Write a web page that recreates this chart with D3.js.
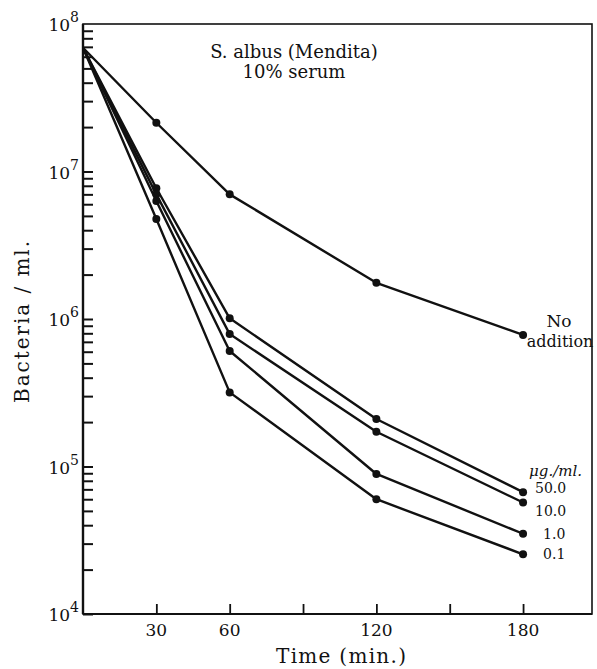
<!DOCTYPE html>
<html>
<head>
<meta charset="utf-8">
<script src="https://cdn.jsdelivr.net/npm/d3@7"></script>
<style>
  html, body { margin: 0; padding: 0; background: #fff; }
  svg { display: block; }
  text { font-family: "DejaVu Serif", serif; fill: #111; }
</style>
</head>
<body>
<svg id="chart" width="597" height="669"></svg>
<script>
// ---- data ----
const times = [0, 30, 60, 120, 180];
const noAddition = [6.9e7, 2.14e7, 7.0e6, 1.76e6, 7.8e5];
const conc50 = [6.9e7, 7.7e6, 1.01e6, 2.1e5, 6.7e4];
const conc10 = [6.9e7, 7.0e6, 7.9e5, 1.72e5, 5.7e4];
const conc1 = [6.9e7, 6.3e6, 6.07e5, 8.9e4, 3.5e4];
const conc01 = [6.9e7, 4.76e6, 3.18e5, 6.0e4, 2.54e4];
const seriesLabels = ["No addition", "50.0", "10.0", "1.0", "0.1"];
const xTickLabels = [30, 60, 120, 180];
const xMinorTicks = [90, 150];
const yDecades = [4, 5, 6, 7, 8];

const series = [noAddition, conc50, conc10, conc1, conc01];

const svg = d3.select("#chart");
const mLeft = 83, mRight = 592, mTop = 24, mBottom = 614;

const x = d3.scaleLinear().domain([0, 208.2]).range([mLeft, mRight]);
const y = d3.scaleLog().domain([1e4, 1e8]).range([mBottom, mTop]);

// frame
svg.append("rect").attr("x", mLeft).attr("y", mTop)
  .attr("width", mRight - mLeft).attr("height", mBottom - mTop)
  .attr("fill", "none").attr("stroke", "#111").attr("stroke-width", 1.6);
svg.append("line").attr("x1", mLeft).attr("x2", mLeft).attr("y1", mTop).attr("y2", mBottom)
  .attr("stroke", "#111").attr("stroke-width", 2.4);
svg.append("line").attr("x1", mLeft).attr("x2", mRight).attr("y1", mBottom).attr("y2", mBottom)
  .attr("stroke", "#111").attr("stroke-width", 2);

// y ticks (inside, pointing right)
const yTickVals = [];
for (let d = 4; d < 8; d++) for (let m = 1; m <= 9; m++) yTickVals.push(m * Math.pow(10, d));
const yAxis = d3.axisRight(y).tickValues(yTickVals).tickSize(10).tickFormat("");
const gy = svg.append("g").attr("transform", `translate(${mLeft},0)`).call(yAxis);
gy.select(".domain").remove();
gy.selectAll(".tick line").attr("stroke", "#111").attr("stroke-width", 2);

// y labels 10^n
const yl = svg.append("g");
yDecades.forEach(d => {
  const t = yl.append("text")
    .attr("x", mLeft - 4).attr("y", y(Math.pow(10, d)) + 7)
    .attr("text-anchor", "end").attr("font-size", 17);
  t.append("tspan").text("10");
  t.append("tspan").attr("dy", -9).attr("font-size", 14).text(d);
});

// x ticks (inside, pointing up)
const xAxis = d3.axisTop(x).tickValues(xTickLabels.concat(xMinorTicks)).tickSize(10).tickFormat("");
const gx = svg.append("g").attr("transform", `translate(0,${mBottom})`).call(xAxis);
gx.select(".domain").remove();
gx.selectAll(".tick line").attr("stroke", "#111").attr("stroke-width", 1.8);

svg.append("g").selectAll("text").data(xTickLabels).join("text")
  .attr("x", d => x(d)).attr("y", mBottom + 22)
  .attr("text-anchor", "middle").attr("font-size", 17).text(d => d);

// axis titles
svg.append("text").attr("x", 341).attr("y", 663)
  .attr("text-anchor", "middle").attr("font-size", 20)
  .attr("textLength", 130).attr("lengthAdjust", "spacing").text("Time (min.)");
svg.append("text")
  .attr("transform", `translate(29,322) rotate(-90)`)
  .attr("text-anchor", "middle").attr("font-size", 20)
  .attr("textLength", 162).attr("lengthAdjust", "spacing").text("Bacteria / ml.");

// title
svg.append("text").attr("x", 294).attr("y", 58)
  .attr("text-anchor", "middle").attr("font-size", 18).text("S. albus (Mendita)");
svg.append("text").attr("x", 294).attr("y", 78)
  .attr("text-anchor", "middle").attr("font-size", 18).text("10% serum");

// lines
const line = d3.line().x((d, i) => x(times[i])).y(d => y(d));
series.forEach(s => {
  svg.append("path").datum(s).attr("d", line)
    .attr("fill", "none").attr("stroke", "#111").attr("stroke-width", 2.4)
    .attr("stroke-linejoin", "round");
  svg.append("g").selectAll("circle").data(s.slice(1)).join("circle")
    .attr("cx", (d, i) => x(times[i + 1])).attr("cy", d => y(d))
    .attr("r", 4).attr("fill", "#111");
});

// end labels
const lastT = times[times.length - 1];
const lastX = x(lastT);
svg.append("text").attr("x", lastX + 36).attr("y", y(noAddition[4]) - 8)
  .attr("text-anchor", "middle").attr("font-size", 17).text("No");
svg.append("text").attr("x", lastX + 37).attr("y", y(noAddition[4]) + 12)
  .attr("text-anchor", "middle").attr("font-size", 16).text("addition");

svg.append("text").attr("x", lastX + 6).attr("y", y(conc50[4]) - 16)
  .attr("font-size", 15).attr("font-style", "italic").text("\u03bcg./ml.");
[[conc50, "50.0", 12, 1], [conc10, "10.0", 12, 13], [conc1, "1.0", 20, 5], [conc01, "0.1", 20, 5]]
  .forEach(([s, lab, dx, dy]) => {
    svg.append("text").attr("x", lastX + dx).attr("y", y(s[4]) + dy)
      .attr("font-size", 14).text(lab);
  });
</script>
</body>
</html>
